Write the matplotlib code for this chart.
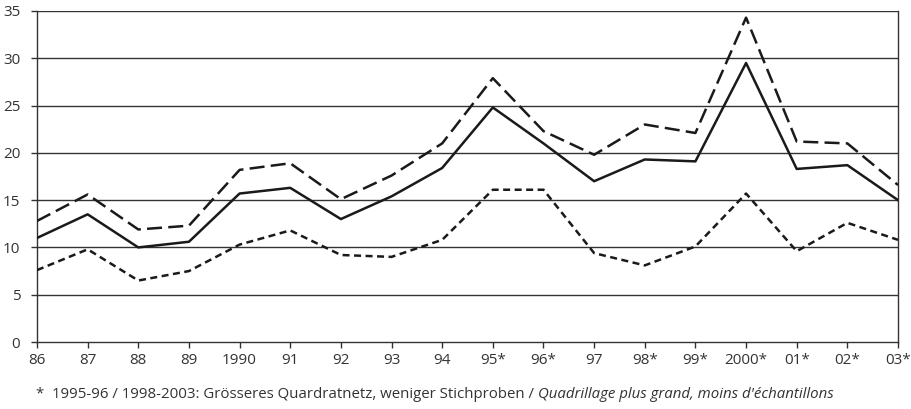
import matplotlib.pyplot as plt

years = ["86", "87", "88", "89", "1990", "91", "92", "93", "94", "95*",
         "96*", "97", "98*", "99*", "2000*", "01*", "02*", "03*"]

solid = [11.0, 13.5, 10.0, 10.6, 15.7, 16.3, 13.0, 15.4, 18.4, 24.8,
         21.0, 17.0, 19.3, 19.1, 29.5, 18.3, 18.7, 15.0]
long_dash = [12.8, 15.6, 11.9, 12.3, 18.2, 18.9, 15.1, 17.6, 21.0, 27.9,
             22.3, 19.8, 23.0, 22.1, 34.3, 21.2, 21.0, 16.6]
short_dash = [7.6, 9.8, 6.5, 7.5, 10.3, 11.8, 9.2, 9.0, 10.8, 16.1,
              16.1, 9.4, 8.1, 10.1, 15.7, 9.6, 12.6, 10.8]

plt.rcParams['font.family'] = ['Open Sans', 'DejaVu Sans']

fig = plt.figure(figsize=(9.12, 4.09), dpi=100)
ax = fig.add_axes([37 / 912, 1 - 342 / 409, 861 / 912, 331 / 409])

x = list(range(len(years)))

# gridlines
for v in range(5, 40, 5):
    ax.axhline(v, color="#333333", lw=1.0, zorder=1)

ax.plot(x, solid, color="#1a1a1a", lw=1.8, zorder=3)
ax.plot(x, long_dash, color="#1a1a1a", lw=1.8, dashes=(6, 2.5), zorder=3)
ax.plot(x, short_dash, color="#1a1a1a", lw=1.8, dashes=(2.8, 1.8), zorder=3)

ax.set_xlim(0, len(years) - 1)
ax.set_ylim(0, 35)
ax.set_xticks(x)
ax.set_xticklabels(years)
ax.set_yticks(range(0, 40, 5))

for s in ax.spines.values():
    s.set_color("#333333")
    s.set_linewidth(1.0)
ax.spines['top'].set_visible(False)

ax.tick_params(axis='both', colors="#333333", labelsize=11, length=4, width=1)
ax.tick_params(axis='x', pad=4)
ax.tick_params(axis='y', pad=8)

fig.text(36 / 912, 1 - 395 / 409,
         "*  1995-96 / 1998-2003: Grösseres Quardratnetz, weniger Stichproben / ",
         fontsize=10.8, color="#333333", va='center')
t1 = fig.texts[-1]
fig.canvas.draw()
bb = t1.get_window_extent()
fig.text(bb.x1 / 912, 1 - 395 / 409,
         "Quadrillage plus grand, moins d'échantillons",
         fontsize=10.8, color="#333333", va='center', style='italic')

fig.savefig("out.png", dpi=100)
